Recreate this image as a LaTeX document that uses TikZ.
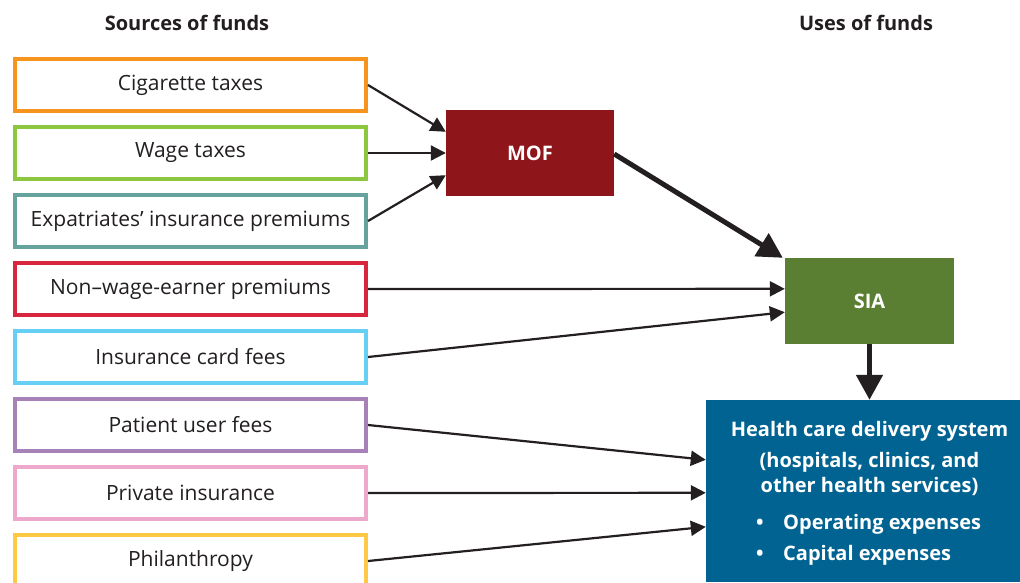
\documentclass[tikz,border=0pt]{standalone}
\usepackage{fontspec}
\setmainfont{Open Sans}
\usetikzlibrary{arrows.meta}
\definecolor{txt}{HTML}{231F20}
\definecolor{cOrange}{HTML}{F7941D}
\definecolor{cGreen}{HTML}{8DC63F}
\definecolor{cTeal}{HTML}{66A39C}
\definecolor{cRed}{HTML}{D7263D}
\definecolor{cBlue}{HTML}{66CFF4}
\definecolor{cPurple}{HTML}{A682B9}
\definecolor{cPink}{HTML}{EDA8CC}
\definecolor{cYellow}{HTML}{FFC845}
\definecolor{mofC}{HTML}{8E161A}
\definecolor{siaC}{HTML}{5B7F32}
\definecolor{hcdC}{HTML}{006391}
\tikzset{
  src/.style={draw, line width=4pt, fill=white, minimum width=351pt, minimum height=52pt, inner sep=0pt, text=txt, font=\fontsize{21}{23}\selectfont},
  hdr/.style={text=txt, font=\fontsize{20}{22}\selectfont\bfseries},
  agency/.style={inner sep=0pt, text=white, font=\fontsize{20}{22}\selectfont\bfseries},
  wtxt/.style={inner sep=0pt, text=white, font=\fontsize{20}{22}\selectfont\bfseries, anchor=base},
  thin/.style={line width=2.2pt, draw=txt, -{Triangle[length=15pt,width=15pt]}},
  thick/.style={line width=5pt, draw=txt, -{Triangle[length=25pt,width=26pt]}},
}
\begin{document}
\begin{tikzpicture}[x=1pt,y=-1pt]
\useasboundingbox (0,0) rectangle (1020,582);
\node[hdr] (hsrc) at (187,23) {Sources of funds};
\node[hdr] (huse) at (866,23) {Uses of funds};

\node[src, draw=cOrange] (cig) at (190.5,85) {Cigarette taxes};
\node[src, draw=cGreen] (wage) at (190.5,153) {Wage taxes};
\node[src, draw=cTeal] (expat) at (190.5,221) {Expatriates’ insurance premiums};
\node[src, draw=cRed] (nonwage) at (190.5,289) {Non–wage-earner premiums};
\node[src, draw=cBlue] (card) at (190.5,357) {Insurance card fees};
\node[src, draw=cPurple] (patient) at (190.5,425) {Patient user fees};
\node[src, draw=cPink] (private) at (190.5,493) {Private insurance};
\node[src, draw=cYellow] (phil) at (190.5,561) {Philanthropy};

\node[agency, fill=mofC, minimum width=168pt, minimum height=86pt] (mof) at (530,153) {MOF};
\node[agency, fill=siaC, minimum width=169pt, minimum height=86pt] (sia) at (869.5,301) {SIA};
\node[fill=hcdC, minimum width=314pt, minimum height=182pt, inner sep=0pt] (hcd) at (863,491) {};

\node[wtxt] (l1) at (869.5,436) {Health care delivery system};
\node[wtxt] (l2) at (869.5,467) {(hospitals, clinics, and};
\node[wtxt] (l3) at (869.5,492) {other health services)};
\node[wtxt] (b1) at (760,529) {•};
\node[wtxt, anchor=base west] (l4) at (783,529) {Operating expenses};
\node[wtxt] (b2) at (760,560) {•};
\node[wtxt, anchor=base west] (l5) at (783,560) {Capital expenses};

\draw[thin] (cig.east) -- ([yshift=-22pt]mof.north west);
\draw[thin] (wage.east) -- (mof.west);
\draw[thin] (expat.east) -- ([yshift=21pt]mof.south west);
\draw[thick] ([yshift=-1pt]mof.east) -- ([xshift=-2pt]sia.north west);
\draw[thin] (nonwage.east) -- ([yshift=-31pt]sia.north west);
\draw[thin] (card.east) -- ([yshift=32pt]sia.south west);
\draw[thick] (sia.south) -- (hcd.north -| sia.south);
\draw[thin] (patient.east) -- ([yshift=-60pt]hcd.north west);
\draw[thin] (private.east) -- ([yshift=-93pt]hcd.north west);
\draw[thin] (phil.east) -- ([yshift=-127pt]hcd.north west);
\end{tikzpicture}
\end{document}
